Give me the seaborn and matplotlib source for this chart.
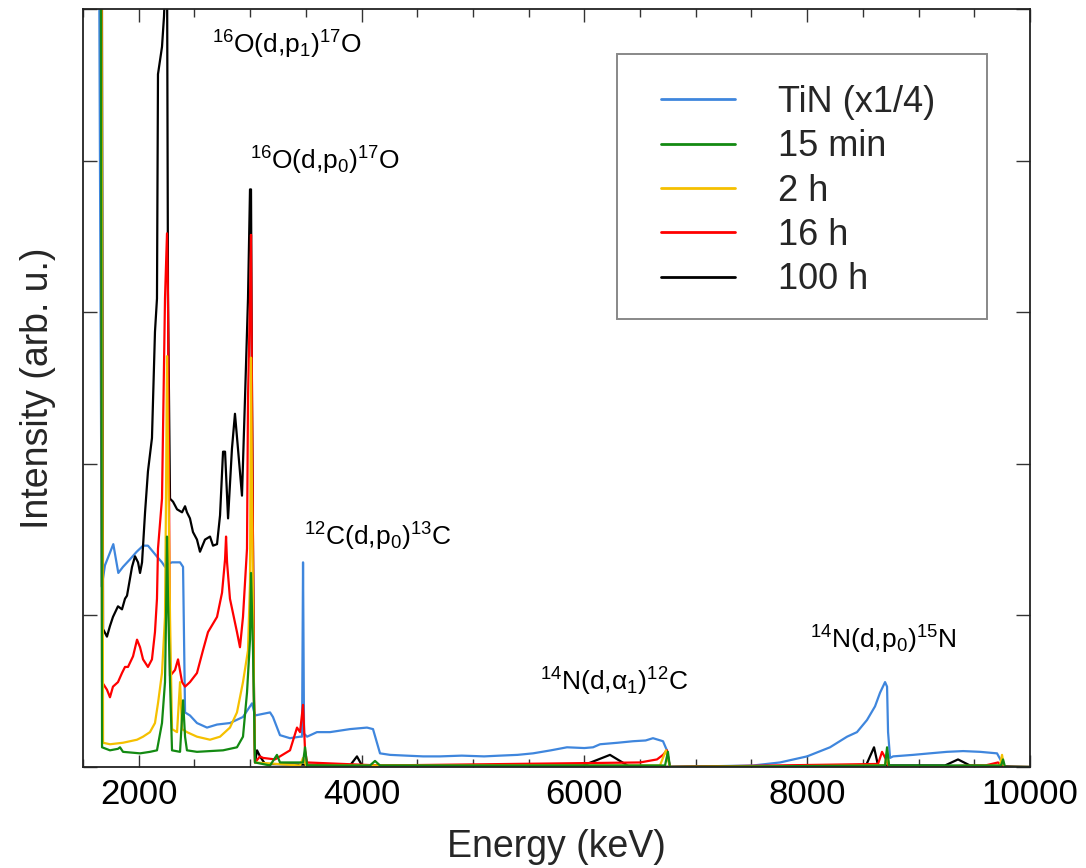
import matplotlib
matplotlib.use("Agg")
import matplotlib.pyplot as plt
from matplotlib.patches import Rectangle
import numpy as np
import pandas as pd
import seaborn as sns
from matplotlib.ticker import MultipleLocator, NullFormatter

# ---------------- data ----------------
series_labels = ["TiN (x1/4)", "15 min", "2 h", "16 h", "100 h"]
series_colors = ["#3f86dd", "#138a12", "#f5c000", "#ff0000", "#000000"]

e_tin = [1630, 1668, 1697, 1772, 1817, 1859, 1922, 1982, 2039, 2083, 2128, 2173, 2209, 2236,
         2263, 2299, 2371, 2398, 2416, 2460, 2523, 2613, 2703, 2819, 2936, 3017, 3044, 3179,
         3205, 3268, 3358, 3448, 3466, 3475, 3484, 3511, 3600, 3717, 3897, 4049, 4103, 4166,
         4256, 4400, 4552, 4704, 4900, 5100, 5243, 5400, 5539, 5700, 5844, 6000, 6078, 6141,
         6300, 6437, 6550, 6616, 6706, 6741, 6768, 7514,
         7756, 7999, 8205, 8358, 8447, 8537, 8609, 8654, 8699, 8717, 8726, 8744, 8771, 8950,
         9100, 9255, 9400, 9552, 9704, 9749, 9758, 10000]
i_tin = [8.0, 1.19, 1.33, 1.47, 1.28, 1.32, 1.37, 1.42, 1.46, 1.46, 1.42, 1.38, 1.35, 1.32,
         1.34, 1.35, 1.35, 1.32, 0.36, 0.34, 0.29, 0.26, 0.28, 0.29, 0.33, 0.42, 0.34, 0.36,
         0.33, 0.21, 0.19, 0.20, 0.20, 1.35, 0.22, 0.20, 0.23, 0.23, 0.25, 0.26, 0.25, 0.09,
         0.08, 0.075, 0.07, 0.07, 0.075, 0.07, 0.075, 0.08, 0.09, 0.11, 0.13, 0.125, 0.13, 0.15,
         0.16, 0.17, 0.175, 0.19, 0.17, 0.11, 0.0, 0.01,
         0.03, 0.07, 0.13, 0.20, 0.23, 0.31, 0.40, 0.49, 0.56, 0.53, 0.23, 0.06, 0.07, 0.08,
         0.09, 0.10, 0.105, 0.10, 0.09, 0.03, 0.0, 0.0]

e_15min = [1655, 1671, 1742, 1814, 1832, 1859, 2012, 2101, 2164, 2209, 2236, 2245, 2254, 2263,
           2281, 2299, 2371, 2389, 2398, 2416, 2433, 2523, 2757, 2882, 2936, 2972, 2999, 3008,
           3026, 3044, 3179, 3241, 3268, 3475, 3493, 3511, 4076, 4121, 4166, 6724, 6750, 6768,
           8699, 8717, 8735, 9740, 9758, 9776, 10000]
i_15min = [8.0, 0.13, 0.11, 0.12, 0.13, 0.10, 0.09, 0.10, 0.11, 0.29, 0.56, 0.97, 1.52, 1.11,
           0.56, 0.11, 0.10, 0.33, 0.44, 0.20, 0.11, 0.10, 0.11, 0.13, 0.20, 0.49, 0.84, 1.28,
           0.77, 0.03, 0.01, 0.08, 0.03, 0.03, 0.13, 0.01, 0.01, 0.04, 0.01, 0.01, 0.10, 0.0,
           0.01, 0.13, 0.01, 0.01, 0.05, 0.0, 0.0]

e_2h = [1658, 1680, 1742, 1859, 1985, 2039, 2101, 2146, 2173, 2209, 2236, 2245, 2254, 2263,
        2281, 2299, 2344, 2371, 2389, 2433, 2523, 2640, 2730, 2819, 2882, 2936, 2981, 2999,
        3008, 3017, 3035, 3044, 3448, 3475, 3502, 6679, 6732, 6768, 8699, 8717, 8735, 9731,
        9749, 9767, 10000]
i_2h = [8.0, 0.16, 0.15, 0.16, 0.18, 0.20, 0.23, 0.29, 0.42, 0.62, 0.99, 1.77, 2.71, 2.10,
        0.99, 0.25, 0.23, 0.56, 0.25, 0.23, 0.20, 0.18, 0.20, 0.26, 0.36, 0.56, 0.77, 1.22,
        2.70, 1.77, 0.44, 0.03, 0.01, 0.06, 0.01, 0.01, 0.11, 0.0, 0.01, 0.10, 0.0, 0.01,
        0.08, 0.0, 0.0]

e_16h = [1660, 1671, 1715, 1742, 1769, 1814, 1850, 1877, 1904, 1949, 1985, 2012, 2039, 2083,
         2119, 2146, 2164, 2173, 2209, 2236, 2254, 2263, 2281, 2326, 2353, 2389, 2416, 2460,
         2523, 2577, 2622, 2703, 2748, 2775, 2784, 2793, 2819, 2882, 2909, 2936, 2972, 2981,
         2999, 3008, 3017, 3035, 3044, 3089, 3116, 3223, 3358, 3421, 3448, 3475, 3493, 3511,
         4166, 6500, 6652, 6706, 6741, 6768, 8636, 8672, 8708, 8735, 9597, 9713, 9758, 10000]
i_16h = [8.0, 0.56, 0.51, 0.46, 0.53, 0.56, 0.62, 0.66, 0.66, 0.73, 0.84, 0.79, 0.71, 0.66,
         0.71, 0.89, 1.11, 1.44, 1.77, 3.09, 3.52, 3.09, 0.60, 0.64, 0.71, 0.56, 0.53, 0.56,
         0.62, 0.77, 0.89, 0.99, 1.15, 1.37, 1.52, 1.35, 1.11, 0.89, 0.79, 0.99, 1.44, 2.43,
         3.09, 3.51, 2.43, 0.44, 0.03, 0.07, 0.06, 0.05, 0.11, 0.26, 0.23, 0.41, 0.11, 0.03,
         0.01, 0.03, 0.05, 0.08, 0.11, 0.0, 0.02, 0.10, 0.05, 0.0, 0.01, 0.03, 0.0, 0.0]

e_100h = [1663, 1680, 1715, 1742, 1769, 1814, 1850, 1877, 1895, 1940, 1967, 1994, 2012, 2030,
          2039, 2057, 2083, 2119, 2146, 2164, 2173, 2209, 2227, 2245, 2254, 2263, 2281, 2308,
          2344, 2389, 2416, 2433, 2460, 2487, 2523, 2550, 2595, 2640, 2667, 2703, 2730, 2757,
          2775, 2802, 2837, 2864, 2891, 2927, 2954, 2981, 2999, 3008, 3017, 3035, 3044, 3062,
          3089, 3134, 3897, 3959, 4004, 5988, 6230, 6410, 8528, 8600, 8636, 9237, 9354, 9462,
          10000]
i_100h = [8.0, 0.91, 0.86, 0.93, 0.99, 1.06, 1.04, 1.11, 1.13, 1.32, 1.39, 1.35, 1.28, 1.35,
          1.46, 1.68, 1.95, 2.17, 2.87, 3.09, 4.57, 4.75, 4.95, 5.3, 5.4, 3.09, 1.77, 1.75,
          1.70, 1.68, 1.72, 1.68, 1.64, 1.55, 1.50, 1.42, 1.50, 1.52, 1.46, 1.47, 1.66, 2.08,
          2.08, 1.64, 2.10, 2.33, 2.10, 1.79, 2.43, 3.09, 3.81, 3.81, 2.43, 0.44, 0.03, 0.11,
          0.07, 0.02, 0.01, 0.07, 0.01, 0.01, 0.08, 0.0, 0.01, 0.13, 0.01, 0.01, 0.05, 0.01,
          0.0]

annotations = [
    (r"$^{16}$O(d,p$_{1}$)$^{17}$O", 2658, 4.76),
    (r"$^{16}$O(d,p$_{0}$)$^{17}$O", 2999, 4.00),
    (r"$^{12}$C(d,p$_{0}$)$^{13}$C", 3484, 1.52),
    (r"$^{14}$N(d,α$_{1}$)$^{12}$C", 5602, 0.56),
    (r"$^{14}$N(d,p$_{0}$)$^{15}$N", 8026, 0.84),
]

# ---------------- style ----------------
sns.set_theme(style="ticks")
plt.rcParams["font.family"] = ["Liberation Sans", "DejaVu Sans"]
plt.rcParams["mathtext.fontset"] = "custom"
plt.rcParams["mathtext.rm"] = "Liberation Sans"
plt.rcParams["mathtext.it"] = "Liberation Sans:italic"
plt.rcParams["mathtext.bf"] = "Liberation Sans:bold"

W, H = 1086, 868
fig = plt.figure(figsize=(W / 100, H / 100), dpi=100)
ax_l, ax_r, ax_t, ax_b = 83, 1030, 9, 767
ax = fig.add_axes([ax_l / W, (H - ax_b) / H, (ax_r - ax_l) / W, (ax_b - ax_t) / H])

all_e = [e_tin, e_15min, e_2h, e_16h, e_100h]
all_i = [i_tin, i_15min, i_2h, i_16h, i_100h]

# drawing order: TiN, 100 h, 16 h, 2 h, 15 min (15 min on top)
draw_order = [0, 4, 3, 2, 1]
handles = {}
for k in draw_order:
    df = pd.DataFrame({"Energy": all_e[k], "Intensity": all_i[k]})
    sns.lineplot(data=df, x="Energy", y="Intensity", color=series_colors[k], lw=1.6,
                 sort=False, estimator=None, ax=ax, label=series_labels[k], legend=False)
    handles[k] = ax.lines[-1]

ax.set_xlim(1500, 10000)
ax.set_ylim(0, 5.0)
ax.xaxis.set_major_locator(MultipleLocator(2000))
ax.xaxis.set_minor_locator(MultipleLocator(500))
ax.yaxis.set_major_locator(MultipleLocator(1))
ax.yaxis.set_major_formatter(NullFormatter())
ax.tick_params(axis="both", which="both", direction="in", top=True, right=True,
               colors="#333333", width=1.0)
ax.tick_params(axis="x", which="major", length=9, labelsize=25, labelcolor="black", pad=8)
ax.tick_params(axis="x", which="minor", length=6)
ax.tick_params(axis="y", which="major", length=10)
for sp in ax.spines.values():
    sp.set_color("#222222")
    sp.set_linewidth(1.3)

ax.set_xlabel("Energy (keV)", fontsize=27, labelpad=13)
ax.set_ylabel("Intensity (arb. u.)", fontsize=27, labelpad=16)

for txt, x, y in annotations:
    ax.text(x, y, txt, fontsize=19, ha="left", va="center", color="black")

# legend (entries placed frameless, frame drawn as a rectangle around them)
def fx(px):
    return (px - ax_l) / (ax_r - ax_l)

def fy(py):
    return (ax_b - py) / (ax_b - ax_t)

leg = ax.legend([handles[k] for k in range(5)], series_labels, loc="upper left",
                bbox_to_anchor=(fx(632), fy(56)), borderaxespad=0,
                fontsize=26, frameon=False, handlelength=2.05,
                handletextpad=1.2, labelspacing=0.26, borderpad=0.8)
for line in leg.get_lines():
    line.set_linewidth(2.0)
ax.add_patch(Rectangle((fx(617), fy(319)), fx(987) - fx(617), fy(54) - fy(319),
                       transform=ax.transAxes, fill=True, facecolor="white",
                       edgecolor="#888888", lw=1.4, zorder=4))
leg.set_zorder(5)

fig.savefig("out.png", dpi=100)
